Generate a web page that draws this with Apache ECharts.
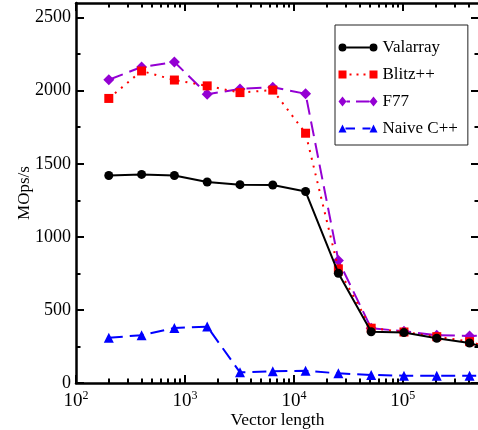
<!DOCTYPE html>
<html>
<head>
<meta charset="utf-8">
<script src="https://cdn.jsdelivr.net/npm/echarts@6/dist/echarts.min.js"></script>
<style>html,body{margin:0;padding:0;background:#fff}#c{width:478px;height:430px}</style>
</head>
<body>
<div id="c"></div>
<script>
var vectorLength = [200, 400, 800, 1600, 3200, 6400, 12800, 25600, 51200, 102400, 204800, 409600, 819200];
var valarray = [1420, 1427, 1420, 1375, 1357, 1355, 1310, 751, 351, 345, 306, 274, 205];
var blitz = [1947, 2135, 2073, 2033, 1987, 2004, 1709, 781, 375, 349, 317, 283, 215];
var f77 = [2075, 2162, 2196, 1976, 2012, 2024, 1979, 838, 375, 354, 327, 322, 325];
var naive = [310, 327, 377, 386, 73, 80, 84, 66, 55, 50, 50, 50, 50];
var seriesNames = ['Valarray', 'Blitz++', 'F77', 'Naive C++'];
var yMajorTicks = [0, 500, 1000, 1500, 2000, 2500];
var yMinorTicks = [250, 750, 1250, 1750, 2250];
var xMajorTicks = [100, 1000, 10000, 100000];
var xMin = 100, xMax = 500000, yMin = 0, yMax = 2600;

var xMinorTicks = [];
xMajorTicks.forEach(function (d) {
  for (var k = 2; k <= 9; k++) { if (d * k <= xMax) xMinorTicks.push(d * k); }
});
function pairs(ys) { return vectorLength.map(function (x, i) { return [x, ys[i]]; }); }

var FONT = 'Liberation Serif';
function xAx(pos, major, labels) {
  return {
    type: 'log', position: pos, min: xMin, max: xMax, logBase: 10,
    axisLine: { show: major, onZero: false, lineStyle: { color: '#000', width: 2.5 } },
    axisTick: { show: true, inside: true, length: major ? 8 : 4.5, customValues: major ? xMajorTicks : xMinorTicks,
                lineStyle: { color: '#000', width: 2 } },
    axisLabel: labels ? {
      show: true, margin: 7, color: '#000', customValues: xMajorTicks,
      formatter: function (v) { return '{b|10}{s|' + Math.round(Math.log10(v)) + '}'; },
      rich: { b: { fontFamily: FONT, fontSize: 19, color: '#000', lineHeight: 22 },
              s: { fontFamily: FONT, fontSize: 12, color: '#000', verticalAlign: 'top', lineHeight: 12 } }
    } : { show: false },
    splitLine: { show: false }
  };
}
function yAx(pos, major, labels) {
  return {
    type: 'value', position: pos, min: yMin, max: yMax,
    axisLine: { show: major, onZero: false, lineStyle: { color: '#000', width: 2.5 } },
    axisTick: { show: true, inside: true, length: major ? 8 : 4.5, customValues: major ? yMajorTicks : yMinorTicks,
                lineStyle: { color: '#000', width: 2 } },
    axisLabel: labels ? { show: true, customValues: yMajorTicks, margin: 5, color: '#000', fontFamily: FONT, fontSize: 18,
                          formatter: function (v) { return String(v); } } : { show: false },
    splitLine: { show: false }
  };
}

var xAxes = [xAx('bottom', true, true), xAx('bottom', false, false), xAx('top', true, false), xAx('top', false, false)];
xAxes[0].name = 'Vector length';
xAxes[0].nameLocation = 'middle';
xAxes[0].nameGap = 28;
xAxes[0].nameMoveOverlap = false;
xAxes[0].nameTextStyle = { fontFamily: FONT, fontSize: 17.5, color: '#000' };
var yAxes = [yAx('left', true, true), yAx('left', false, false), yAx('right', true, false), yAx('right', false, false)];
yAxes[0].name = 'MOps/s';
yAxes[0].nameLocation = 'middle';
yAxes[0].nameGap = 43;
yAxes[0].nameMoveOverlap = false;
yAxes[0].nameTextStyle = { fontFamily: FONT, fontSize: 17, color: '#000' };

function r(x0, x1) { return 'M' + x0 + ',5.1 L' + x1 + ',5.1 L' + x1 + ',6.9 L' + x0 + ',6.9 Z '; }
var styles = [
  { color: '#000000', symbol: 'circle', size: 9, type: 'solid',
    icon: 'path://M0,6 a4,4 0 1,1 8,0 a4,4 0 1,1 -8,0 Z M31,6 a4,4 0 1,1 8,0 a4,4 0 1,1 -8,0 Z ' + r(8, 31) },
  { color: '#ff0000', symbol: 'rect', size: 9, type: [2, 6],
    icon: 'path://M0,2 L8,2 L8,10 L0,10 Z M31,2 L39,2 L39,10 L31,10 Z ' + r(11, 13) + r(18, 20) + r(25, 27) },
  { color: '#9400d3', symbol: 'diamond', size: 11, type: [15, 7],
    icon: 'path://M0,6 L4,1 L8,6 L4,11 Z M31,6 L35,1 L39,6 L35,11 Z ' + r(8, 11.5) + r(17.5, 31) },
  { color: '#0000ff', symbol: 'triangle', size: 10, type: [14, 7],
    icon: 'path://M0,10 L4,2 L8,10 Z M31,10 L35,2 L39,10 Z ' + r(7, 16.5) + r(24, 32) }
];
var dataSets = [valarray, blitz, f77, naive];

var chart = echarts.init(document.getElementById('c'), null, { renderer: 'canvas' });
chart.setOption({
  animation: false,
  backgroundColor: '#fff',
  grid: { left: 76, right: -1, top: 3, bottom: 47, containLabel: false, outerBoundsMode: 'none' },
  xAxis: xAxes,
  yAxis: yAxes,
  legend: {
    orient: 'vertical', left: 335, top: 25,
    padding: [14, 10, 8, 3.5],
    itemWidth: 39, itemHeight: 12, itemGap: 10,
    symbolKeepAspect: true,
    borderColor: '#222', borderWidth: 1, backgroundColor: '#fff',
    textStyle: { fontFamily: FONT, fontSize: 17, color: '#000' },
    data: seriesNames.map(function (n, i) { return { name: n, icon: styles[i].icon }; })
  },
  series: seriesNames.map(function (n, i) {
    var s = styles[i];
    return {
      name: n, type: 'line', xAxisIndex: 0, yAxisIndex: 0,
      data: pairs(dataSets[i]), clip: true,
      symbol: s.symbol, symbolSize: s.size,
      itemStyle: { color: s.color },
      lineStyle: { color: s.color, width: 2, type: s.type },
      z: 10 - i
    };
  })
});
</script>
</body>
</html>
